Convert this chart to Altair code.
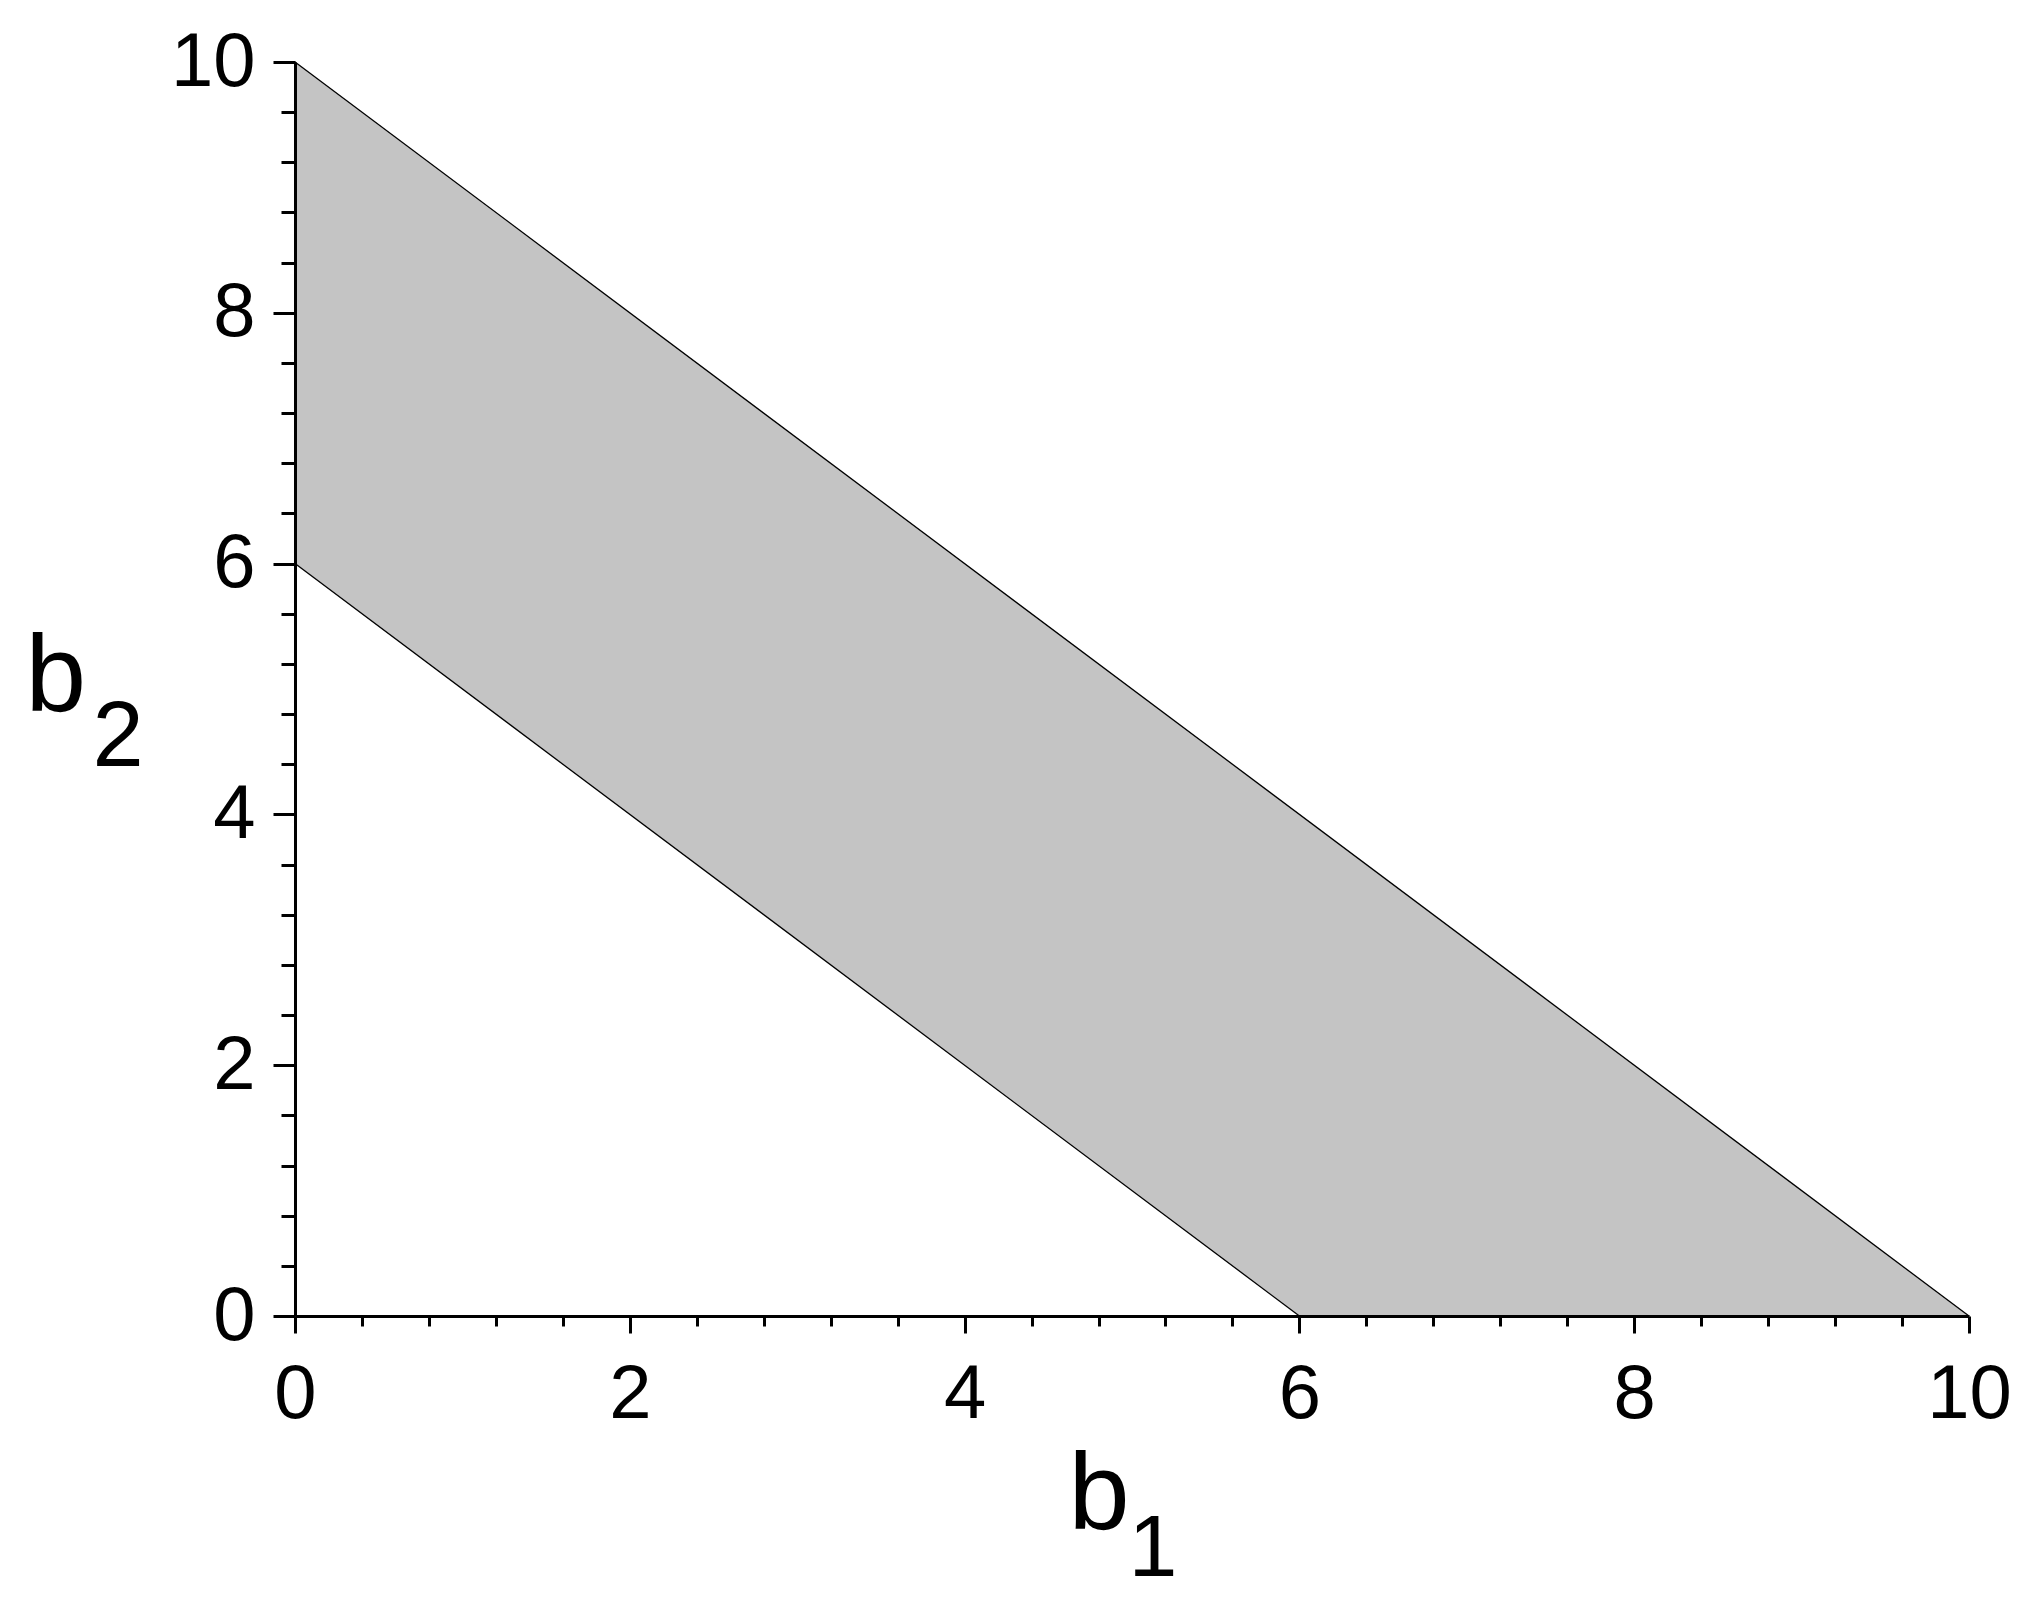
import altair as alt
import pandas as pd

# Data
band_b1 = [0, 6, 10]
band_upper = [10, 4, 0]
band_lower = [6, 0, 0]

upper_line_b1 = [0, 10]
upper_line_b2 = [10, 0]
lower_line_b1 = [0, 6]
lower_line_b2 = [6, 0]

major_ticks = [0, 2, 4, 6, 8, 10]
minor_ticks = [0.4, 0.8, 1.2, 1.6, 2.4, 2.8, 3.2, 3.6, 4.4, 4.8, 5.2, 5.6,
               6.4, 6.8, 7.2, 7.6, 8.4, 8.8, 9.2, 9.6]

FONT = "Liberation Sans"

band = pd.DataFrame({"b1": band_b1, "upper": band_upper, "lower": band_lower})
upper_line = pd.DataFrame({"b1": upper_line_b1, "b2": upper_line_b2})
lower_line = pd.DataFrame({"b1": lower_line_b1, "b2": lower_line_b2})

xscale = alt.Scale(domain=[0, 10], nice=False, zero=False)
yscale = alt.Scale(domain=[0, 10], nice=False, zero=False)

x_major = alt.Axis(
    orient="bottom", values=major_ticks, format="d", grid=False,
    domain=True, domainColor="black", domainWidth=3,
    ticks=True, tickColor="black", tickWidth=3, tickSize=17,
    labels=True, labelFont=FONT, labelFontSize=76, labelColor="black",
    labelPadding=24, labelFlush=False, labelOverlap=False,
    title="b", titleFont=FONT, titleFontSize=110, titleFontWeight="normal",
    titleColor="black", titleAlign="left", titleBaseline="alphabetic",
    titleX=773, titleY=212, zindex=2,
)
y_major = alt.Axis(
    orient="left", values=major_ticks, format="d", grid=False,
    domain=True, domainColor="black", domainWidth=3,
    ticks=True, tickColor="black", tickWidth=3, tickSize=22,
    labels=True, labelFont=FONT, labelFontSize=76, labelColor="black",
    labelPadding=18, labelFlush=False, labelOverlap=False,
    title="b", titleFont=FONT, titleFontSize=109, titleFontWeight="normal",
    titleColor="black", titleAlign="left", titleBaseline="alphabetic",
    titleAngle=0, titleX=-270, titleY=648, zindex=2,
)
x_minor = alt.Axis(
    orient="bottom", values=minor_ticks, grid=False, domain=False,
    ticks=True, tickColor="black", tickWidth=3, tickSize=10,
    labels=False,
    title="1", titleFont=FONT, titleFontSize=88, titleFontWeight="normal",
    titleColor="black", titleAlign="left", titleBaseline="alphabetic",
    titleX=833, titleY=259, zindex=2,
)
y_minor = alt.Axis(
    orient="left", values=minor_ticks, grid=False, domain=False,
    ticks=True, tickColor="black", tickWidth=3, tickSize=14,
    labels=False,
    title="2", titleFont=FONT, titleFontSize=92, titleFontWeight="normal",
    titleColor="black", titleAlign="left", titleBaseline="alphabetic",
    titleAngle=0, titleX=-203, titleY=703, zindex=2,
)

area = alt.Chart(band).mark_area(color="#c4c4c4", opacity=1).encode(
    x=alt.X("b1:Q", scale=xscale, axis=x_major),
    y=alt.Y("upper:Q", scale=yscale, axis=y_major),
    y2="lower:Q",
)
line_up = alt.Chart(upper_line).mark_line(color="black", strokeWidth=1.3).encode(
    x=alt.X("b1:Q", scale=xscale),
    y=alt.Y("b2:Q", scale=yscale),
)
line_lo = alt.Chart(lower_line).mark_line(color="black", strokeWidth=1.3).encode(
    x=alt.X("b1:Q", scale=xscale),
    y=alt.Y("b2:Q", scale=yscale),
)
main = alt.layer(area, line_up, line_lo)

minor = alt.Chart(upper_line).mark_line(opacity=0).encode(
    x=alt.X("b1:Q", scale=xscale, axis=x_minor),
    y=alt.Y("b2:Q", scale=yscale, axis=y_minor),
)

chart = alt.layer(main, minor).resolve_axis(
    x="independent", y="independent"
).properties(
    width=1674, height=1254,
    autosize="none",
    padding={"left": 287, "top": 54, "right": 57, "bottom": 277},
    background="white",
).configure_view(stroke=None)

chart.save("out.html", embed_options={"renderer": "svg", "actions": False})
